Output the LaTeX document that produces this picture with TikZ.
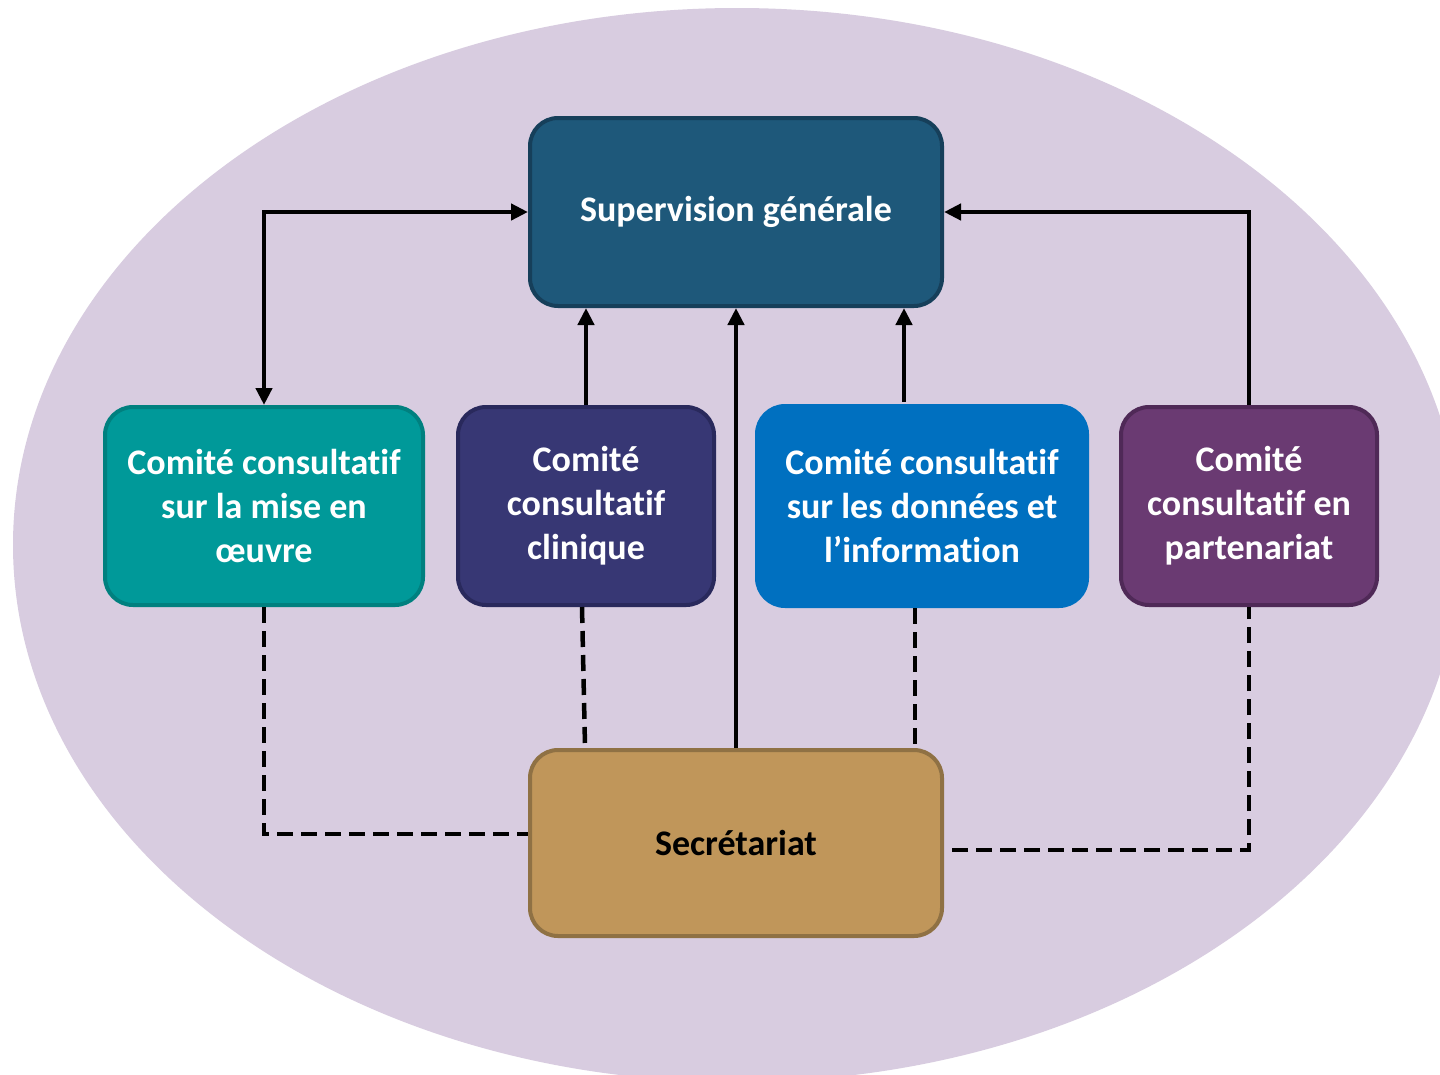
\documentclass[tikz,border=0pt]{standalone}
\usepackage{fontspec}
\setmainfont{Carlito}[Ligatures=NoCommon]
\usetikzlibrary{arrows.meta}
\definecolor{lav}{HTML}{D8CCE0}
\definecolor{supF}{HTML}{1E587A}
\definecolor{supD}{HTML}{163F5A}
\definecolor{teaF}{HTML}{009999}
\definecolor{teaD}{HTML}{00807F}
\definecolor{cliF}{HTML}{373774}
\definecolor{cliD}{HTML}{29295C}
\definecolor{donF}{HTML}{0070C0}
\definecolor{parF}{HTML}{6A3A72}
\definecolor{parD}{HTML}{4F2957}
\definecolor{secF}{HTML}{C0965A}
\definecolor{secD}{HTML}{8F7144}
\begin{document}
\begin{tikzpicture}[x=1pt,y=-1pt,
  box/.style={rectangle, rounded corners=28pt, line width=4pt, inner sep=0pt,
    align=center, text=white, font=\fontsize{36}{44}\selectfont\bfseries},
  arr/.style={line width=4.5pt, -{Triangle[length=17pt,width=16pt]}},
  dsh/.style={line width=4.5pt, dash pattern=on 16pt off 8pt}]
\useasboundingbox (0,0) rectangle (1440,1074);
\clip (0,0) rectangle (1440,1074);
\fill[white] (0,0) rectangle (1440,1074);
\fill[lav] (737,545) ellipse [x radius=724, y radius=537];
\node[box, fill=supF, draw=supD, minimum width=412pt, minimum height=188pt] (sup) at (736,212) {Supervision générale};
\node[box, fill=teaF, draw=teaD, minimum width=318pt, minimum height=198pt] (tea) at (264,506) {Comité consultatif\\sur la mise en\\œuvre};
\node[box, fill=cliF, draw=cliD, minimum width=256pt, minimum height=198pt] (cli) at (586,506) {Comité\\consultatif\\clinique};
\node[box, fill=donF, draw=donF, minimum width=330pt, minimum height=200pt] (don) at (922,506) {Comité consultatif\\sur les données et\\l’information};
\node[box, fill=parF, draw=parD, minimum width=256pt, minimum height=198pt] (par) at (1249,506) {Comité\\consultatif en\\partenariat};
\node[box, fill=secF, draw=secD, text=black, minimum width=412pt, minimum height=186pt] (sec) at (736,843) {Secrétariat};
% solid arrows
\draw[arr, {Triangle[length=17pt,width=16pt]}-{Triangle[length=17pt,width=16pt]}] (tea.north) |- (sup.west);
\draw[arr] (cli.north) -- (cli.north |- sup.south);
\draw[arr] (sec.north) -- (sup.south);
\draw[arr] ([xshift=-18pt,yshift=2pt]don.north) -- ([xshift=-18pt]don.north |- sup.south);
\draw[arr] (par.north) |- (sup.east);
% dashed links
\draw[dsh] (tea.south) |- ([yshift=9pt]sec.west);
\draw[dsh] ([xshift=-4pt]cli.south) -- ([xshift=-1pt,yshift=2pt]cli.south |- sec.north);
\draw[dsh] ([xshift=-7pt]don.south) -- ([xshift=-7pt,yshift=2pt]don.south |- sec.north);
\draw[dsh] ([xshift=8pt,yshift=-7pt]sec.east) -| (par.south);
\end{tikzpicture}
\end{document}
